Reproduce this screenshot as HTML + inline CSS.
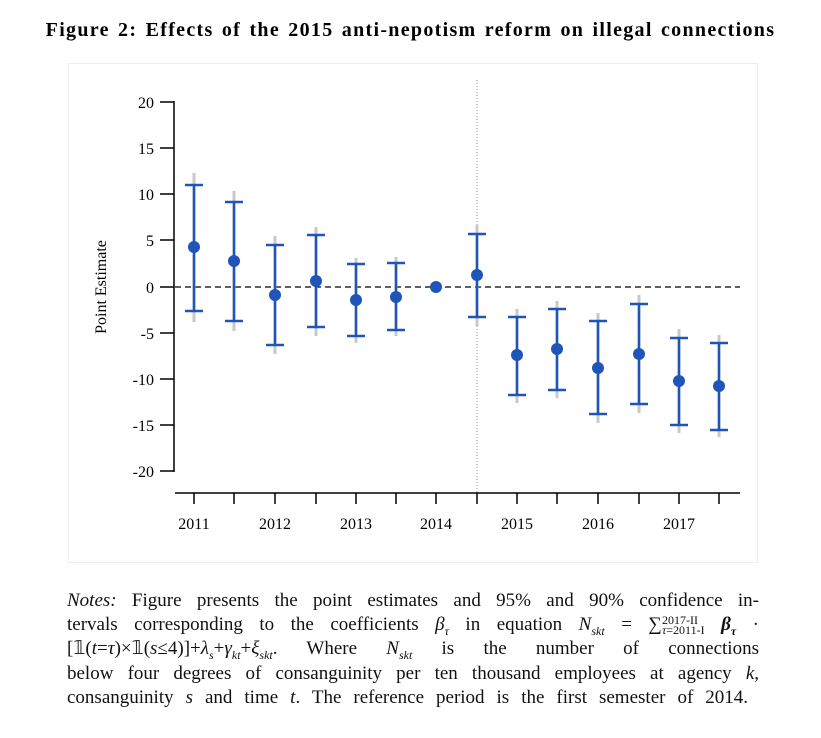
<!DOCTYPE html>
<html><head><meta charset="utf-8"><style>
body{margin:0;background:#fff;width:821px;height:738px;overflow:hidden;font-family:"Liberation Serif",serif;}
.t{position:absolute;left:0;width:821px;top:19px;text-align:center;font-weight:bold;font-size:20px;letter-spacing:1.3px;word-spacing:2px;}
.n{position:absolute;left:67px;top:589px;width:692px;font-size:19px;line-height:24.2px;color:#111;}
.n div{text-align:justify;text-align-last:justify;height:24.2px;white-space:normal}
sub{font-size:12px}
</style></head><body>
<div class="t">Figure 2: Effects of the 2015 anti-nepotism reform on illegal connections</div>
<svg width="821" height="738" style="position:absolute;left:0;top:0">
<rect x="68.5" y="63.5" width="689" height="499" fill="none" stroke="#eee"/>
<g stroke="#000" stroke-width="1.5">
<line x1="174" y1="101" x2="174" y2="472"/>
<line x1="160" y1="102" x2="174" y2="102"/><line x1="160" y1="148" x2="174" y2="148"/><line x1="160" y1="194" x2="174" y2="194"/><line x1="160" y1="240" x2="174" y2="240"/><line x1="160" y1="287" x2="174" y2="287"/><line x1="160" y1="333" x2="174" y2="333"/><line x1="160" y1="379" x2="174" y2="379"/><line x1="160" y1="425" x2="174" y2="425"/><line x1="160" y1="471" x2="174" y2="471"/>
<line x1="175" y1="493" x2="740" y2="493"/>
</g>
<g stroke="#000" stroke-width="1.5" id="xt"></g>
<g font-size="16" text-anchor="end" font-family="Liberation Serif">
<text x="154" y="108">20</text><text x="154" y="154">15</text><text x="154" y="200">10</text><text x="154" y="246">5</text><text x="154" y="293">0</text><text x="154" y="339">-5</text><text x="154" y="385">-10</text><text x="154" y="431">-15</text><text x="154" y="477">-20</text>
</g>
<g font-size="16" text-anchor="middle" font-family="Liberation Serif">
<text x="194" y="529">2011</text><text x="275" y="529">2012</text><text x="356" y="529">2013</text><text x="436" y="529">2014</text><text x="517" y="529">2015</text><text x="598" y="529">2016</text><text x="679" y="529">2017</text>
</g>
<text x="106" y="287" font-size="16" text-anchor="middle" transform="rotate(-90 106 287)" font-family="Liberation Serif">Point Estimate</text>
<line x1="175" y1="287" x2="740" y2="287" stroke="#000" stroke-width="1.3" stroke-dasharray="6,4"/>
<line x1="477" y1="80" x2="477" y2="492" stroke="#999" stroke-width="1" stroke-dasharray="1,2"/>
<g id="d"></g>
</svg>
<script>
var xs=[194,234,275,316,356,396,436,477,517,557,598,639,679,719];
var D=[[247,185,311,173,322],[261,202,321,191,331],[295,245,345,236,354],[281,235,327,227,336],[300,264,336,258,343],[297,263,330,257,336],[287],[275,234,317,225,326],[355,317,395,309,403],[349,309,390,301,398],[368,321,414,313,423],[354,304,404,295,413],[381,338,425,329,433],[386,343,430,335,437]];
var s="",t="";
xs.forEach(function(x,i){t+='<line x1="'+x+'" y1="493" x2="'+x+'" y2="504"/>';var d=D[i];
if(d.length>1){s+='<line x1="'+x+'" y1="'+d[3]+'" x2="'+x+'" y2="'+d[4]+'" stroke="#c8c8c8" stroke-width="3"/>';
s+='<line x1="'+x+'" y1="'+d[1]+'" x2="'+x+'" y2="'+d[2]+'" stroke="#1f55b8" stroke-width="2.5"/>';
s+='<line x1="'+(x-9)+'" y1="'+d[1]+'" x2="'+(x+9)+'" y2="'+d[1]+'" stroke="#1f55b8" stroke-width="2.5"/>';
s+='<line x1="'+(x-9)+'" y1="'+d[2]+'" x2="'+(x+9)+'" y2="'+d[2]+'" stroke="#1f55b8" stroke-width="2.5"/>';}
s+='<circle cx="'+x+'" cy="'+d[0]+'" r="6" fill="#1f55b8"/>';});
document.getElementById("d").innerHTML=s;document.getElementById("xt").innerHTML=t;
</script>
<div class="n">
<div><i>Notes:</i> Figure presents the point estimates and 95% and 90% confidence in-</div>
<div>tervals corresponding to the coefficients <i>β<sub>τ</sub></i> in equation <i>N<sub>skt</sub></i> = ∑<span style="font-size:12px;display:inline-block;line-height:10px;vertical-align:-4px;text-align-last:left"><span style="display:block">2017-II</span><span style="display:block"><i>τ</i>=2011-I</span></span> <b><i>β<sub>τ</sub></i></b> ·</div>
<div>[𝟙(<i>t</i>=<i>τ</i>)×𝟙(<i>s</i>≤4)]+<i>λ<sub>s</sub></i>+<i>γ<sub>kt</sub></i>+<i>ξ<sub>skt</sub></i>. Where <i>N<sub>skt</sub></i> is the number of connections</div>
<div>below four degrees of consanguinity per ten thousand employees at agency <i>k</i>,</div>
<div style="width:681px">consanguinity <i>s</i> and time <i>t</i>. The reference period is the first semester of 2014.</div>
</div>
</body></html>
